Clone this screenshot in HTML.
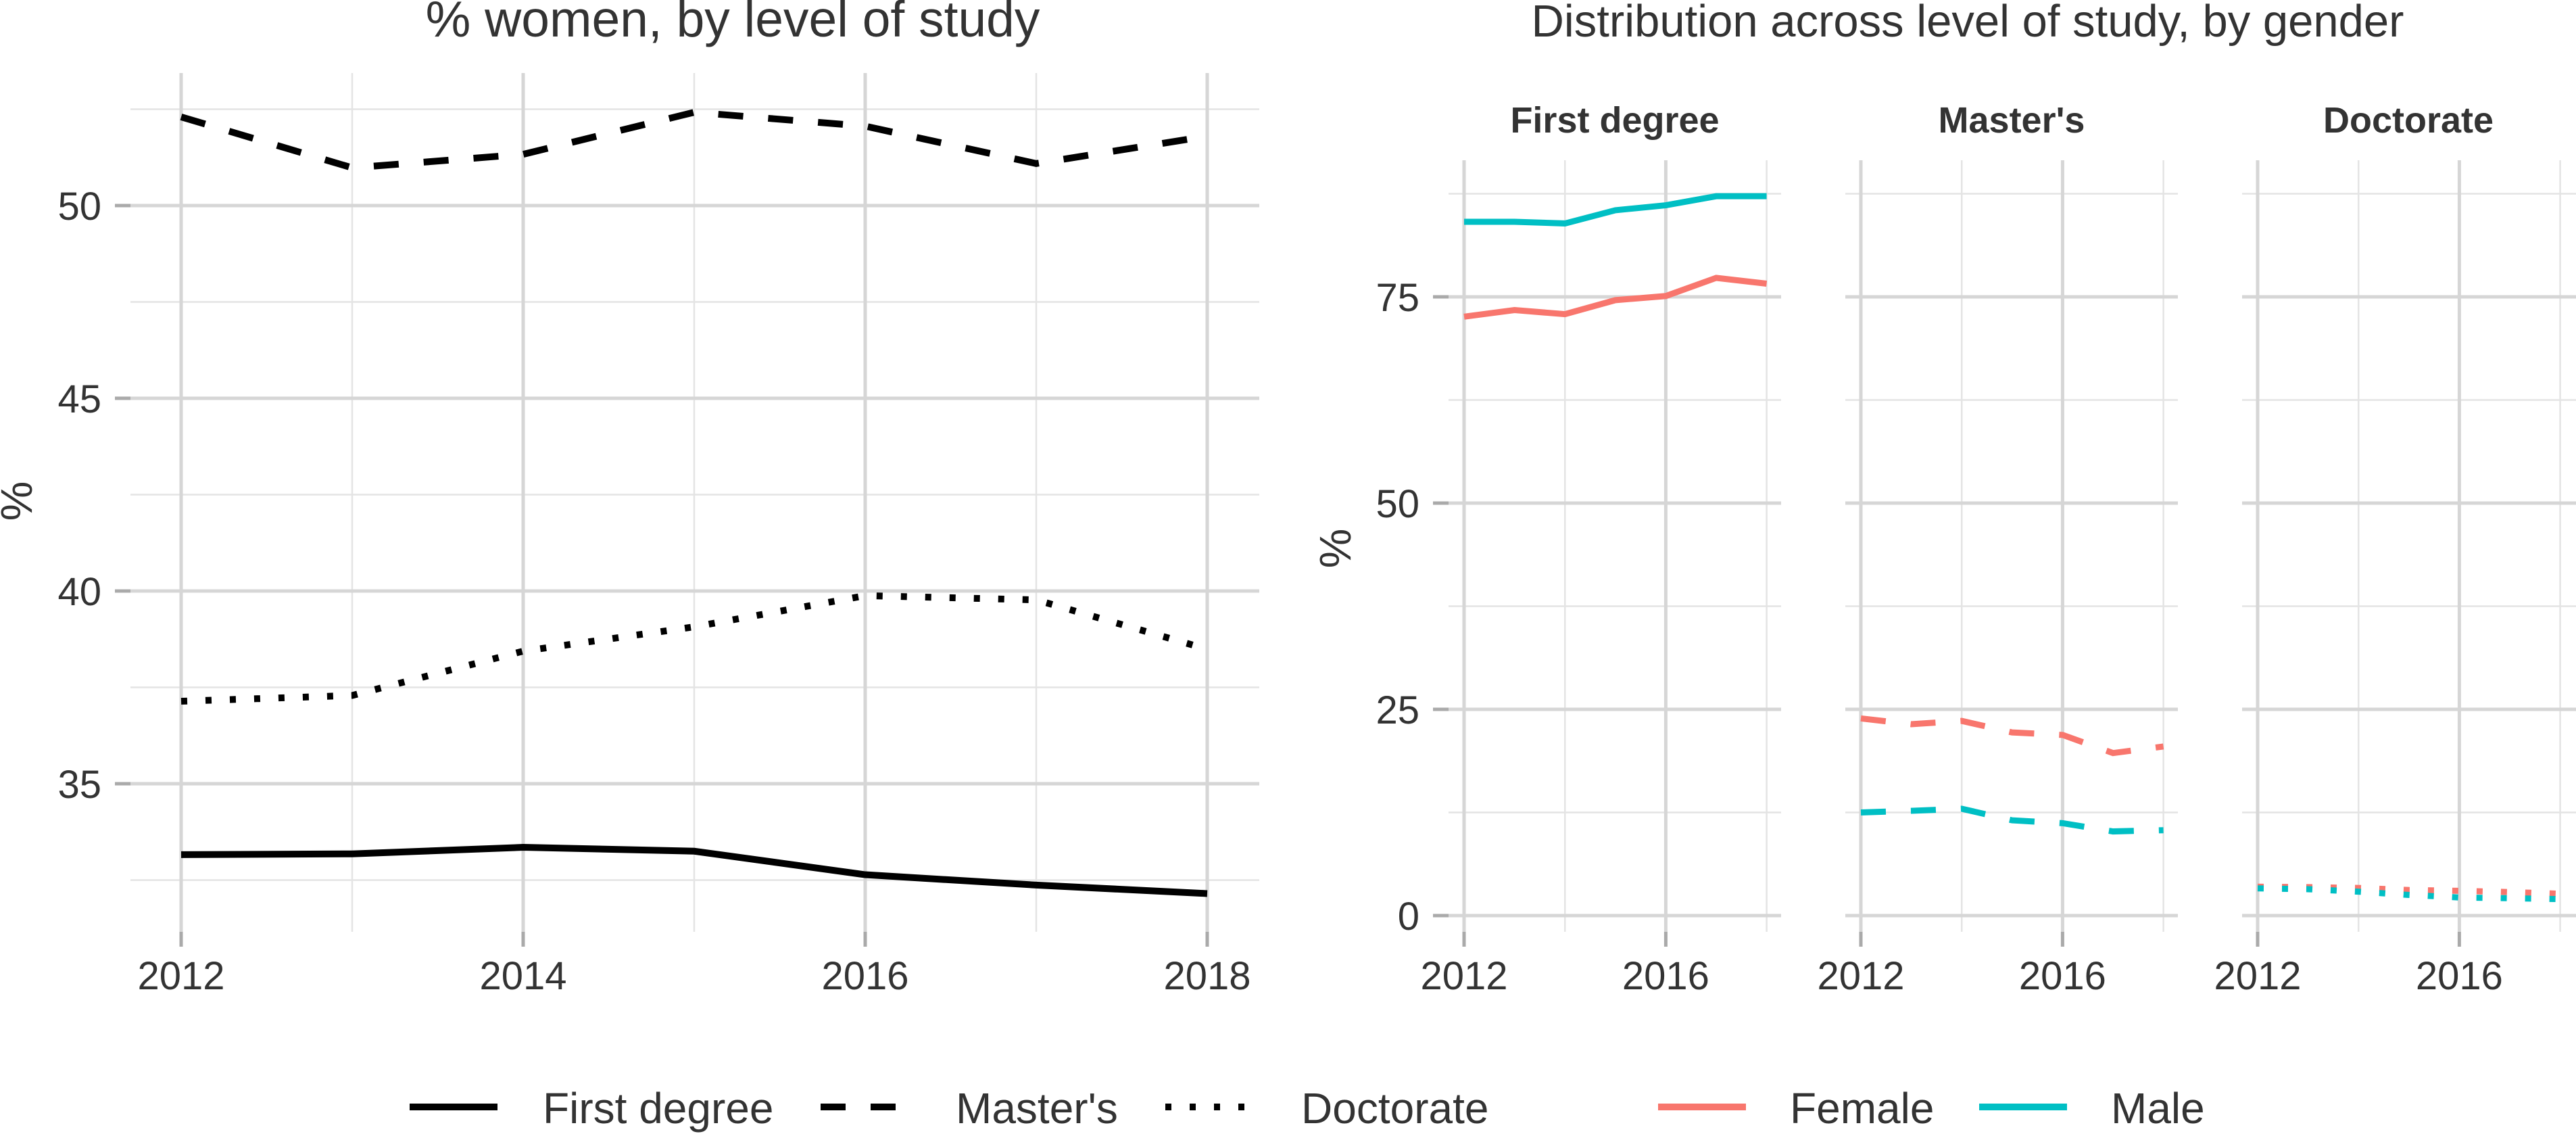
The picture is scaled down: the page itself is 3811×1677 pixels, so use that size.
<!DOCTYPE html>
<html><head><meta charset="utf-8"><style>
html,body{margin:0;padding:0;background:#fff;}
svg{display:block;font-family:"Liberation Sans",Arial,sans-serif;}
</style></head><body>
<svg id="chart" width="3811" height="1677" viewBox="0 0 3811 1677" xmlns="http://www.w3.org/2000/svg">
<text x="1084" y="54" font-size="75" fill="#333" text-anchor="middle">% women, by level of study</text>
<text x="2911" y="54" font-size="67" fill="#333" text-anchor="middle">Distribution across level of study, by gender</text>
<g id="left"></g>
<g id="right"></g>
<g id="legend"></g>
</svg>
<script>
const years = [2012, 2013, 2014, 2015, 2016, 2017, 2018];
const leftTicks = [35, 40, 45, 50];
const leftMinor = [32.5, 37.5, 42.5, 47.5, 52.5];
const leftXTicks = [2012, 2014, 2016, 2018];
const pctFirst = [33.16, 33.18, 33.35, 33.25, 32.64, 32.37, 32.15];
const pctMasters = [52.30, 50.98, 51.33, 52.42, 52.06, 51.09, 51.80];
const pctDoctorate = [37.14, 37.29, 38.44, 39.07, 39.88, 39.77, 38.49];

const facets = ["First degree", "Master's", "Doctorate"];
const rightTicks = [0, 25, 50, 75];
const rightMinor = [12.5, 37.5, 62.5, 87.5];
const rightXTicks = [2012, 2016];
const femaleFirst = [72.6, 73.4, 72.9, 74.6, 75.1, 77.3, 76.6];
const maleFirst = [84.1, 84.1, 83.9, 85.5, 86.1, 87.2, 87.2];
const femaleMasters = [23.9, 23.2, 23.6, 22.2, 21.9, 19.7, 20.5];
const maleMasters = [12.5, 12.7, 12.95, 11.55, 11.2, 10.2, 10.35];
const femaleDoctorate = [3.5, 3.45, 3.35, 3.1, 3.0, 2.85, 2.65];
const maleDoctorate = [3.3, 3.2, 2.9, 2.5, 2.2, 2.1, 2.0];

const NS = "http://www.w3.org/2000/svg";
function mk(parent, tag, attrs, text) {
  const e = document.createElementNS(NS, tag);
  for (const k in attrs) e.setAttribute(k, attrs[k]);
  if (text !== undefined) e.textContent = text;
  parent.appendChild(e);
  return e;
}
const MAJ = "#d6d6d6", MIN = "#e4e4e4", TICK = "#aaaaaa", TXT = "#333";
const DASH = "37,37", DOT = "9,27";

// LEFT PANEL
const L = document.getElementById('left');
const lx = y => 268 + (y - 2012) * 253;
const ly = v => 304 + (50 - v) * 57.0;
const lLeft = 193, lRight = 1863, lTop = 108, lBot = 1378;
for (const v of leftMinor) {
  const g = mk(L, 'line', {x1: lLeft, x2: lRight, y1: ly(v), y2: ly(v), stroke: MIN, 'stroke-width': 2.5});
  
  
}
for (const yr of years) {
  if (leftXTicks.includes(yr)) continue;
  const g = mk(L, 'line', {x1: lx(yr), x2: lx(yr), y1: lTop, y2: lBot, stroke: MIN, 'stroke-width': 2.5});
  
  
}
for (const v of leftTicks) {
  const g = mk(L, 'line', {x1: lLeft, x2: lRight, y1: ly(v), y2: ly(v), stroke: MAJ, 'stroke-width': 5});
  
  
  const t = mk(L, 'line', {x1: 170, x2: lLeft, y1: ly(v), y2: ly(v), stroke: TICK, 'stroke-width': 5});
  
  
  const lb = mk(L, 'text', {x: 150, y: ly(v) + 21, 'font-size': 58, fill: TXT, 'text-anchor': 'end'}, String(v));
  
  
}
for (const yr of leftXTicks) {
  const g = mk(L, 'line', {x1: lx(yr), x2: lx(yr), y1: lTop, y2: lBot, stroke: MAJ, 'stroke-width': 5});
  
  
  const t = mk(L, 'line', {x1: lx(yr), x2: lx(yr), y1: lBot, y2: 1400, stroke: TICK, 'stroke-width': 5});
  
  
  const lb = mk(L, 'text', {x: lx(yr), y: 1463, 'font-size': 58, fill: TXT, 'text-anchor': 'middle'}, String(yr));
  
  
}
const lyt = mk(L, 'text', {x: 0, y: 0, 'font-size': 66, fill: TXT, 'text-anchor': 'middle', transform: 'translate(47,741) rotate(-90)'}, '%');


function pts(vals, fx, fy) { return vals.map((v, i) => fx(years[i]) + ',' + fy(v)).join(' '); }
const s1 = mk(L, 'polyline', {points: pts(pctFirst, lx, ly), fill: 'none', stroke: '#000', 'stroke-width': 10});


const s2 = mk(L, 'polyline', {points: pts(pctMasters, lx, ly), fill: 'none', stroke: '#000', 'stroke-width': 10, 'stroke-dasharray': DASH});


const s3 = mk(L, 'polyline', {points: pts(pctDoctorate, lx, ly), fill: 'none', stroke: '#000', 'stroke-width': 10, 'stroke-dasharray': DOT});



// RIGHT PANEL
const R = document.getElementById('right');
const ry = v => 1354 - v * 12.2;
const fem = [femaleFirst, femaleMasters, femaleDoctorate];
const mal = [maleFirst, maleMasters, maleDoctorate];
const dashes = [null, DASH, DOT];
const rTop = 237, rBot = 1378;
facets.forEach((name, f) => {
  const x0 = 2166 + f * 587;
  const fx = y => x0 + (y - 2012) * 74.6;
  const gL = x0 - 23, gR = f === 2 ? 3811 : x0 + 469;
  for (const v of rightMinor) {
    const g = mk(R, 'line', {x1: gL, x2: gR, y1: ry(v), y2: ry(v), stroke: MIN, 'stroke-width': 2.5});
    
    
  }
  for (const yr of [2014, 2018]) {
    const g = mk(R, 'line', {x1: fx(yr), x2: fx(yr), y1: rTop, y2: rBot, stroke: MIN, 'stroke-width': 2.5});
    
    
  }
  for (const v of rightTicks) {
    const g = mk(R, 'line', {x1: gL, x2: gR, y1: ry(v), y2: ry(v), stroke: MAJ, 'stroke-width': 5});
    
    
  }
  for (const yr of rightXTicks) {
    const g = mk(R, 'line', {x1: fx(yr), x2: fx(yr), y1: rTop, y2: rBot, stroke: MAJ, 'stroke-width': 5});
    
    
    const t = mk(R, 'line', {x1: fx(yr), x2: fx(yr), y1: rBot, y2: 1400, stroke: TICK, 'stroke-width': 5});
    
    
    const lb = mk(R, 'text', {x: fx(yr), y: 1463, 'font-size': 58, fill: TXT, 'text-anchor': 'middle'}, String(yr));
    
    
  }
  const st = mk(R, 'text', {x: (gL + Math.min(gR, x0 + 469)) / 2, y: 196, 'font-size': 54, 'font-weight': 'bold', fill: TXT, 'text-anchor': 'middle'}, name);
  
  
  const a = {fill: 'none', 'stroke-width': 9};
  if (dashes[f]) a['stroke-dasharray'] = dashes[f];
  const pf = mk(R, 'polyline', Object.assign({points: pts(fem[f], fx, ry), stroke: '#F8766D'}, a));
  
  
  const pm = mk(R, 'polyline', Object.assign({points: pts(mal[f], fx, ry), stroke: '#00BFC4'}, a));
  
  
});
for (const v of rightTicks) {
  const t = mk(R, 'line', {x1: 2120, x2: 2143, y1: ry(v), y2: ry(v), stroke: TICK, 'stroke-width': 5});
  
  
  const lb = mk(R, 'text', {x: 2100, y: ry(v) + 21, 'font-size': 58, fill: TXT, 'text-anchor': 'end'}, String(v));
  
  
}
const ryt = mk(R, 'text', {x: 0, y: 0, 'font-size': 66, fill: TXT, 'text-anchor': 'middle', transform: 'translate(1998,811) rotate(-90)'}, '%');



// LEGEND
const G = document.getElementById('legend');
const legItems = [
  {x: 606, tx: 803, label: 'First degree', color: '#000', dash: null, w: 10},
  {x: 1214, tx: 1414, label: "Master's", color: '#000', dash: DASH, w: 10},
  {x: 1724, tx: 1925, label: 'Doctorate', color: '#000', dash: DOT, w: 10},
  {x: 2453, tx: 2648, label: 'Female', color: '#F8766D', dash: null, w: 10},
  {x: 2928, tx: 3123, label: 'Male', color: '#00BFC4', dash: null, w: 10}
];
for (const it of legItems) {
  const a = {x1: it.x, x2: it.x + 130, y1: 1637, y2: 1637, stroke: it.color, 'stroke-width': it.w};
  if (it.dash) a['stroke-dasharray'] = it.dash;
  const k = mk(G, 'line', a);
  
  
  const t = mk(G, 'text', {x: it.tx, y: 1661, 'font-size': 64, fill: TXT}, it.label);
  
  
}
</script>
</body></html>
